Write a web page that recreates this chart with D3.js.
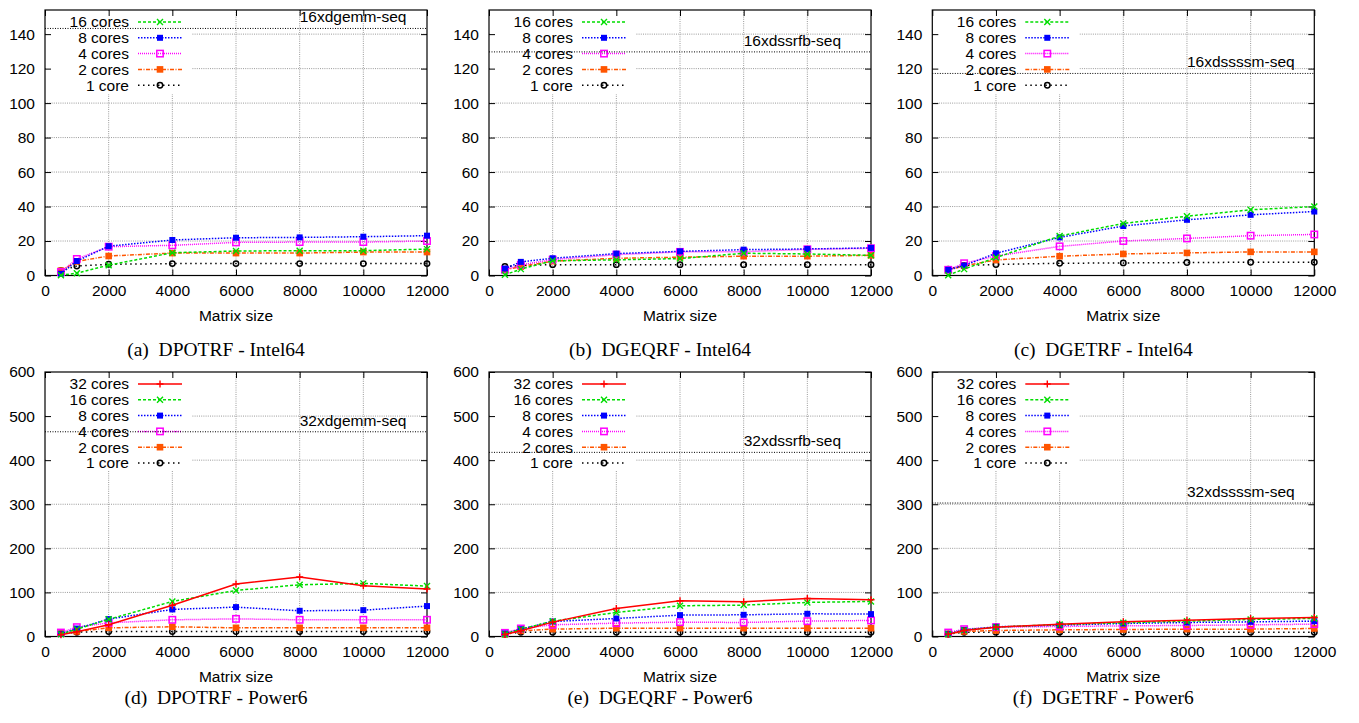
<!DOCTYPE html>
<html>
<head>
<meta charset="utf-8">
<script src="https://cdn.jsdelivr.net/npm/d3@7"></script>
<style>
  html, body { margin: 0; padding: 0; background: #fff; }
  svg { display: block; }
  .tick-label { font-family: "Liberation Sans", Arial, Helvetica, sans-serif; font-size: 15.5px; fill: #000; }
  .caption { font-family: "Liberation Serif", "Times New Roman", serif; font-size: 19.5px; fill: #000; white-space: pre; }
</style>
</head>
<body>
<svg id="chart" width="1359" height="723"></svg>
<script>
// ---------------- DATA ----------------
const matrixSizes = [500, 1000, 2000, 4000, 6000, 8000, 10000, 12000];
const xTickValues = [0, 2000, 4000, 6000, 8000, 10000, 12000];
const yTicksIntel = [0, 20, 40, 60, 80, 100, 120, 140];
const yTicksPower = [0, 100, 200, 300, 400, 500, 600];

const seriesIntel = ["16 cores", "8 cores", "4 cores", "2 cores", "1 core"];
const seriesPower = ["32 cores", "16 cores", "8 cores", "4 cores", "2 cores", "1 core"];

// (a) DPOTRF - Intel64 : rows = 16, 8, 4, 2, 1 cores
const dpotrfIntel = [
  [0.2, 1.3, 6.0, 13.2, 14.2, 14.4, 14.4, 15.3],
  [1.0, 8.4, 17.0, 20.6, 21.9, 22.1, 22.5, 23.1],
  [2.0, 9.6, 16.7, 17.5, 19.2, 19.4, 19.4, 20.0],
  [2.8, 8.2, 11.3, 13.0, 13.0, 13.0, 13.6, 13.6],
  [2.8, 5.5, 6.5, 6.9, 6.9, 6.9, 6.9, 6.9]
];
// (b) DGEQRF - Intel64
const dgeqrfIntel = [
  [0.4, 3.7, 8.5, 9.1, 9.8, 12.9, 12.5, 11.7],
  [4.0, 7.9, 10.0, 12.7, 14.0, 15.0, 15.4, 16.0],
  [3.3, 6.2, 9.2, 12.1, 13.7, 13.8, 15.2, 15.8],
  [3.3, 5.2, 8.3, 10.0, 10.6, 11.2, 11.2, 11.7],
  [5.2, 5.8, 6.3, 6.3, 6.3, 6.3, 6.3, 6.3]
];
// (c) DGETRF - Intel64
const dgetrfIntel = [
  [0.2, 3.7, 10.4, 22.9, 30.2, 34.4, 38.1, 40.0],
  [3.3, 5.8, 12.9, 22.1, 28.7, 32.3, 35.2, 37.1],
  [3.3, 7.1, 11.3, 16.9, 20.0, 21.5, 23.1, 23.8],
  [3.1, 5.6, 9.0, 11.2, 12.5, 13.1, 13.7, 13.7],
  [3.7, 5.8, 6.4, 7.1, 7.3, 7.5, 7.7, 7.7]
];
// (d) DPOTRF - Power6 : rows = 32, 16, 8, 4, 2, 1 cores
const dpotrfPower = [
  [4.0, 10.6, 26.5, 71.0, 119.0, 135.0, 115.0, 107.6],
  [5.3, 16.7, 39.0, 79.5, 104.5, 117.4, 120.5, 114.4],
  [6.0, 18.0, 39.4, 61.4, 66.7, 58.3, 59.8, 69.0],
  [9.0, 21.2, 31.0, 37.9, 40.0, 37.9, 37.9, 37.9],
  [6.8, 11.4, 19.7, 22.0, 19.7, 19.7, 19.7, 19.7],
  [6.0, 9.8, 11.4, 11.4, 11.4, 11.4, 11.4, 11.4]
];
// (e) DGEQRF - Power6
const dgeqrfPower = [
  [4.5, 12.9, 32.6, 63.6, 81.0, 78.8, 86.4, 83.3],
  [5.3, 16.7, 34.8, 54.5, 69.7, 71.2, 77.3, 79.5],
  [6.8, 16.7, 34.0, 40.9, 48.5, 49.2, 51.5, 50.8],
  [8.3, 18.2, 26.5, 30.3, 32.6, 31.8, 34.8, 36.4],
  [5.3, 12.9, 16.7, 18.9, 18.9, 18.9, 18.9, 18.9],
  [5.3, 9.8, 9.8, 9.8, 9.8, 9.8, 9.8, 9.8]
];
// (f) DGETRF - Power6
const dgetrfPower = [
  [5.3, 13.6, 21.2, 28.0, 33.3, 37.0, 41.0, 43.0],
  [5.3, 14.4, 21.2, 27.3, 31.0, 34.8, 38.6, 41.0],
  [6.0, 15.0, 22.0, 25.8, 29.5, 31.8, 33.3, 34.8],
  [9.0, 16.7, 21.2, 22.7, 24.2, 25.0, 26.5, 28.0],
  [6.0, 11.4, 13.6, 15.2, 15.9, 16.7, 16.7, 18.2],
  [5.3, 9.8, 9.8, 9.8, 9.8, 9.8, 9.8, 9.8]
];

const seqLabels = ["16xdgemm-seq", "16xdssrfb-seq", "16xdssssm-seq", "32xdgemm-seq", "32xdssrfb-seq", "32xdssssm-seq"];
const seqValues = [143.3, 129.7, 117.2, 464.4, 417.7, 302.8];
const seqLabelX = 8000;
const captions = ["(a)  DPOTRF - Intel64", "(b)  DGEQRF - Intel64", "(c)  DGETRF - Intel64",
                  "(d)  DPOTRF - Power6", "(e)  DGEQRF - Power6", "(f)  DGETRF - Power6"];
const xAxisTitle = "Matrix size";

// ---------------- STYLES ----------------
const styleByName = {
  "32 cores": { color: "#ff0000", dash: null,            marker: "plus" },
  "16 cores": { color: "#00dd00", dash: "3,2",           marker: "x" },
  "8 cores":  { color: "#0000ff", dash: "1.5,1.5",       marker: "fsqSmall" },
  "4 cores":  { color: "#ff00ff", dash: "1,1",           marker: "osq" },
  "2 cores":  { color: "#ff5500", dash: "4,1.5,1,1.5",   marker: "fsq" },
  "1 core":   { color: "#000000", dash: "1.5,3.5",       marker: "circ" }
};

// ---------------- LAYOUT ----------------
const lefts = [45, 489, 932.3];
const plotW = 382;
const rows = [
  { top: 10, bottom: 275.5, yMax: 154, yTicks: yTicksIntel, names: seriesIntel, data: [dpotrfIntel, dgeqrfIntel, dgetrfIntel], capY: 349, legendH: 83 },
  { top: 372, bottom: 636.5, yMax: 600, yTicks: yTicksPower, names: seriesPower, data: [dpotrfPower, dgeqrfPower, dgetrfPower], capY: 697, legendH: 98 }
];

const svg = d3.select("#chart");

function drawMarker(g, type, color, x, y) {
  if (type === "plus") {
    g.append("path").attr("d", `M${x-3.5},${y}H${x+3.5}M${x},${y-3.5}V${y+3.5}`)
      .attr("stroke", color).attr("stroke-width", 1.4).attr("fill", "none");
  } else if (type === "x") {
    g.append("path").attr("d", `M${x-3},${y-3}L${x+3},${y+3}M${x-3},${y+3}L${x+3},${y-3}`)
      .attr("stroke", color).attr("stroke-width", 1.4).attr("fill", "none");
  } else if (type === "fsqSmall") {
    g.append("rect").attr("x", x-3).attr("y", y-3).attr("width", 6).attr("height", 6).attr("fill", color);
  } else if (type === "fsq") {
    g.append("rect").attr("x", x-3.3).attr("y", y-3.3).attr("width", 6.6).attr("height", 6.6).attr("fill", color);
  } else if (type === "osq") {
    g.append("rect").attr("x", x-3.2).attr("y", y-3.2).attr("width", 6.4).attr("height", 6.4)
      .attr("fill", "none").attr("stroke", color).attr("stroke-width", 1.5);
  } else if (type === "circ") {
    g.append("circle").attr("cx", x).attr("cy", y).attr("r", 2.7)
      .attr("fill", "none").attr("stroke", color).attr("stroke-width", 1.5);
  }
}

rows.forEach((row, ri) => {
  lefts.forEach((left, ci) => {
    const idx = ri * 3 + ci;
    const right = left + plotW;
    const x = d3.scaleLinear().domain([0, 12000]).range([left, right]);
    const y = d3.scaleLinear().domain([0, row.yMax]).range([row.bottom, row.top]);
    const g = svg.append("g");

    // grid
    const grid = g.append("g").attr("stroke", "#9a9a9a").attr("stroke-width", 1).attr("stroke-dasharray", "1,1.2");
    xTickValues.filter(v => v > 0 && v < 12000).forEach(v => {
      grid.append("line").attr("x1", x(v)).attr("x2", x(v)).attr("y1", row.top).attr("y2", row.bottom);
    });
    row.yTicks.filter(v => v > 0 && v < row.yMax).forEach(v => {
      grid.append("line").attr("x1", left).attr("x2", right).attr("y1", y(v)).attr("y2", y(v));
    });

    // legend background (opaque)
    g.append("rect").attr("x", left + 1).attr("y", row.top + 1).attr("width", 146).attr("height", row.legendH).attr("fill", "#fff");

    // axes using d3 axes (ticks inward, mirrored)
    const axB = d3.axisBottom(x).tickValues(xTickValues).tickSize(-6).tickPadding(9).tickFormat(d3.format("d"));
    const axT = d3.axisTop(x).tickValues(xTickValues).tickSize(-6).tickFormat("");
    const axL = d3.axisLeft(y).tickValues(row.yTicks).tickSize(-6).tickPadding(10).tickFormat(d3.format("d"));
    const axR = d3.axisRight(y).tickValues(row.yTicks).tickSize(-6).tickFormat("");
    [[axB, `translate(0,${row.bottom})`], [axT, `translate(0,${row.top})`],
     [axL, `translate(${left},0)`], [axR, `translate(${right},0)`]].forEach(([ax, tr]) => {
      const a = g.append("g").attr("transform", tr).call(ax);
      a.select(".domain").remove();
      a.selectAll("line").attr("stroke", "#000");
      a.selectAll("text").attr("class", "tick-label").attr("font-family", null).attr("font-size", null);
    });
    // border
    g.append("rect").attr("x", left).attr("y", row.top).attr("width", plotW).attr("height", row.bottom - row.top)
      .attr("fill", "none").attr("stroke", "#000").attr("stroke-width", 1.2);

    // axis title
    g.append("text").attr("class", "tick-label").attr("x", (left + right) / 2).attr("y", row.bottom + 40)
      .attr("text-anchor", "middle").attr("dy", "0.35em").text(xAxisTitle);

    // caption
    g.append("text").attr("class", "caption").attr("x", left + 171).attr("y", row.capY)
      .attr("text-anchor", "middle").attr("dy", "0.35em").text(captions[idx]);

    // series
    const dataset = row.data[ci];
    const line = d3.line().x((d, i) => x(matrixSizes[i])).y(d => y(d));
    for (let si = row.names.length - 1; si >= 0; si--) {
      const st = styleByName[row.names[si]];
      const vals = dataset[si];
      g.append("path").datum(vals).attr("d", line).attr("fill", "none")
        .attr("stroke", st.color).attr("stroke-width", 1.5)
        .attr("stroke-dasharray", st.dash);
      vals.forEach((v, i) => drawMarker(g, st.marker, st.color, x(matrixSizes[i]), y(v)));
    }

    // legend content
    row.names.forEach((name, si) => {
      const st = styleByName[name];
      const ly = row.top + 12 + si * 15.8;
      g.append("text").attr("class", "tick-label").attr("x", left + 84).attr("y", ly)
        .attr("text-anchor", "end").attr("dy", "0.35em").text(name);
      g.append("line").attr("x1", left + 93).attr("x2", left + 137).attr("y1", ly).attr("y2", ly)
        .attr("stroke", st.color).attr("stroke-width", 1.5).attr("stroke-dasharray", st.dash);
      drawMarker(g, st.marker, st.color, left + 115, ly);
    });

    // sequential reference line + label
    const sy = y(seqValues[idx]);
    g.append("line").attr("x1", left).attr("x2", right).attr("y1", sy).attr("y2", sy)
      .attr("stroke", "#000").attr("stroke-width", 1).attr("stroke-dasharray", "1,1.5");
    g.append("text").attr("class", "tick-label").attr("x", x(seqLabelX)).attr("y", sy - 11.5)
      .attr("text-anchor", "start").attr("dy", "0.35em").text(seqLabels[idx]);
  });
});
</script>
</body>
</html>
